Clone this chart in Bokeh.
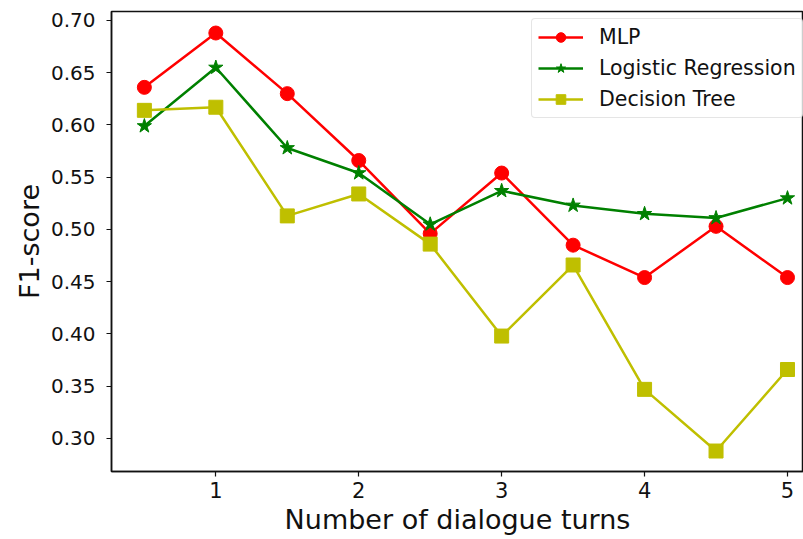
from bokeh.plotting import figure
from bokeh.models import Range1d, FixedTicker, Legend, CustomJSTickFormatter
from bokeh.embed import file_html
from bokeh.resources import INLINE

turns = [0.5, 1, 1.5, 2, 2.5, 3, 3.5, 4, 4.5, 5]
mlp = [0.636, 0.688, 0.630, 0.566, 0.496, 0.554, 0.485, 0.454, 0.503, 0.454]
logreg = [0.599, 0.655, 0.578, 0.554, 0.505, 0.537, 0.523, 0.515, 0.511, 0.530]
dtree = [0.614, 0.617, 0.513, 0.534, 0.486, 0.398, 0.466, 0.347, 0.288, 0.366]
x_ticks = [1, 2, 3, 4, 5]
y_ticks = [0.30, 0.35, 0.40, 0.45, 0.50, 0.55, 0.60, 0.65, 0.70]

FONT = "DejaVu Sans"

p = figure(width=803, height=539, output_backend="svg", toolbar_location=None,
           x_range=Range1d(0.27, 5.112), y_range=Range1d(0.2684, 0.7086),
           min_border_left=111, min_border_right=0, min_border_top=11,
           min_border_bottom=68)

p.grid.visible = False
p.outline_line_color = "#111111"
p.outline_line_width = 1.5
p.background_fill_color = "white"
p.border_fill_color = "white"

for ax in (p.xaxis[0], p.yaxis[0]):
    ax.major_tick_in = 0
    ax.major_tick_out = 5
    ax.minor_tick_line_color = None
    ax.axis_line_color = "#111111"
    ax.axis_line_width = 1.5
    ax.major_tick_line_color = "#111111"
    ax.major_tick_line_width = 1.2
    ax.major_label_text_font = FONT
    ax.major_label_text_color = "#111111"
    ax.axis_label_text_font = FONT
    ax.axis_label_text_font_style = "normal"
    ax.axis_label_text_color = "#111111"

p.xaxis.axis_label_text_font_size = "27px"
p.yaxis.axis_label_text_font_size = "27px"
p.xaxis.major_label_text_font_size = "21px"
p.yaxis.major_label_text_font_size = "20px"
p.xaxis.ticker = FixedTicker(ticks=x_ticks)
p.yaxis.ticker = FixedTicker(ticks=y_ticks)
p.yaxis.formatter = CustomJSTickFormatter(code="return tick.toFixed(2);")
p.xaxis.major_label_standoff = 5
p.yaxis.major_label_standoff = 11
p.xaxis.axis_label = "Number of dialogue turns"
p.yaxis.axis_label = "F1-score"
p.xaxis.axis_label_standoff = 3
p.yaxis.axis_label_standoff = 3

series = [
    ("MLP", mlp, "#ff0000", "circle", 14),
    ("Logistic Regression", logreg, "#008000", "star", 15),
    ("Decision Tree", dtree, "#bfbf00", "square", 14),
]
items = []
for name, ys, col, mk, sz in series:
    r1 = p.line(turns, ys, line_color=col, line_width=2.5)
    r2 = p.scatter(turns, ys, marker=mk, size=sz, fill_color=col, line_color=col)
    items.append((name, [r1, r2]))

legend = Legend(items=items, location=(420, 353))
legend.label_text_font = FONT
legend.label_text_font_size = "20.5px"
legend.label_text_color = "#111111"
legend.glyph_width = 45
legend.glyph_height = 24
legend.label_height = 20
legend.label_standoff = 16
legend.spacing = 7
legend.padding = 6
legend.margin = 0
legend.border_line_color = "#cccccc"
legend.border_line_width = 1
legend.border_radius = 4
legend.background_fill_alpha = 0.8
p.add_layout(legend)

open("out.html", "w").write(file_html(p, INLINE))
